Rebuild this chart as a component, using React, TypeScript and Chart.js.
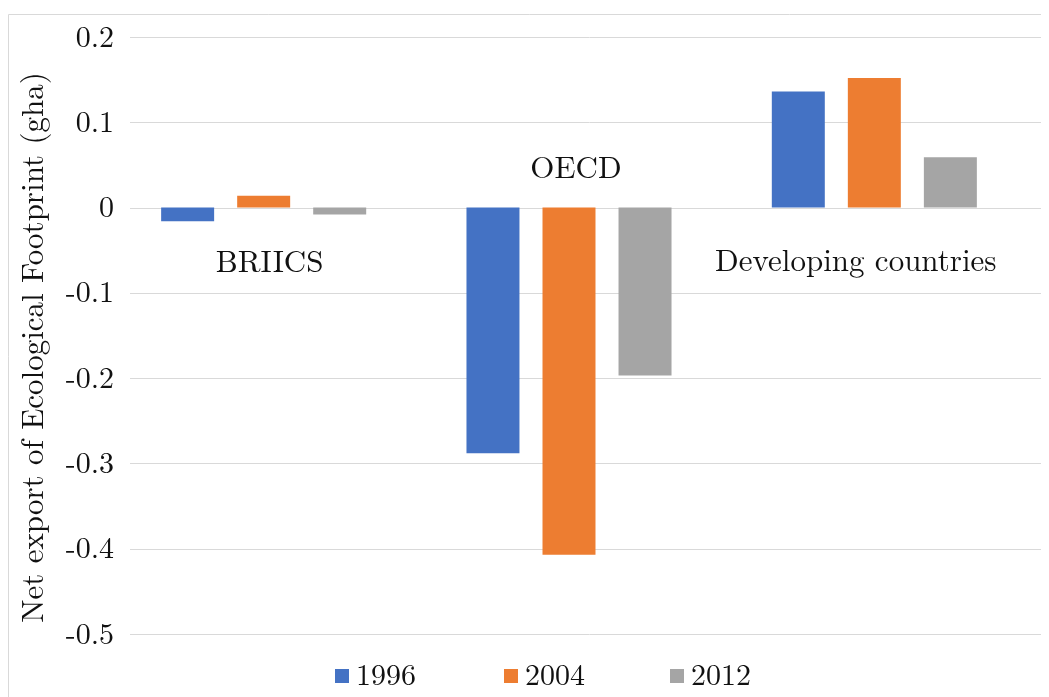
import { useEffect, useRef } from "react";
import { Chart, registerables } from "chart.js";

Chart.register(...registerables);

const categories = ["BRIICS", "OECD", "Developing countries"];
const seriesLabels = ["1996", "2004", "2012"];
const values1996 = [-0.016, -0.288, 0.136];
const values2004 = [0.014, -0.407, 0.152];
const values2012 = [-0.008, -0.197, 0.059];
const yTickValues = [0.2, 0.1, 0, -0.1, -0.2, -0.3, -0.4, -0.5];
const yTickLabels = ["0.2", "0.1", "0", "-0.1", "-0.2", "-0.3", "-0.4", "-0.5"];
const yTitle = "Net export of Ecological Footprint (gha)";
const seriesColors = ["#4472C4", "#ED7D31", "#A5A5A5"];

const FONT = '"Latin Modern Roman"';
const TEXT = "#111111";
const GRID = "#d9d9d9";

const decorPlugin = {
  id: "decor",
  beforeDatasetsDraw(chart: any) {
    const ctx = chart.ctx as CanvasRenderingContext2D;
    const y = chart.scales.y;
    const W = chart.width;
    const H = chart.height;
    ctx.save();
    ctx.strokeStyle = GRID;
    ctx.lineWidth = 1;
    ctx.beginPath();
    ctx.moveTo(0.5, H + 2);
    ctx.lineTo(0.5, 6.5);
    ctx.lineTo(W + 2, 6.5);
    ctx.stroke();
    for (const v of yTickValues) {
      const py = Math.round(y.getPixelForValue(v)) + 0.5;
      ctx.beginPath();
      ctx.moveTo(122, py);
      ctx.lineTo(W, py);
      ctx.stroke();
    }
    ctx.fillStyle = TEXT;
    ctx.font = `30px ${FONT}`;
    ctx.textAlign = "right";
    ctx.textBaseline = "alphabetic";
    yTickValues.forEach((v, i) => {
      const py = y.getPixelForValue(v);
      ctx.fillText(yTickLabels[i], 106, py + 9.5);
    });
    ctx.save();
    ctx.font = `31px ${FONT}`;
    ctx.translate(35.3, 339.5);
    ctx.rotate(-Math.PI / 2);
    ctx.textAlign = "center";
    ctx.fillText(yTitle, 0, 0);
    ctx.restore();
    ctx.restore();
  },
  afterDatasetsDraw(chart: any) {
    const ctx = chart.ctx as CanvasRenderingContext2D;
    const x = chart.scales.x;
    const y = chart.scales.y;
    const zero = y.getPixelForValue(0);
    ctx.save();
    ctx.fillStyle = TEXT;
    ctx.font = `31px ${FONT}`;
    ctx.textAlign = "center";
    ctx.textBaseline = "alphabetic";
    const dx = [6, 7, -18.5];
    const dy = [64.5, -29.5, 63.5];
    categories.forEach((c, i) => {
      ctx.fillText(c, x.getPixelForValue(i) + dx[i], zero + dy[i]);
    });
    const boxX = [327, 496, 662];
    ctx.font = `30px ${FONT}`;
    ctx.textAlign = "left";
    seriesLabels.forEach((s, i) => {
      ctx.fillStyle = seriesColors[i];
      ctx.fillRect(boxX[i], 661, 14, 14);
      ctx.fillStyle = TEXT;
      ctx.fillText(s, boxX[i] + 21, 677);
    });
    ctx.restore();
  },
};

export default function App() {
  const ref = useRef<HTMLCanvasElement>(null);
  useEffect(() => {
    if (!ref.current) return;
    const chart = new Chart(ref.current, {
      type: "bar",
      data: {
        labels: categories,
        datasets: [
          { label: seriesLabels[0], data: values1996, backgroundColor: seriesColors[0] },
          { label: seriesLabels[1], data: values2004, backgroundColor: seriesColors[1] },
          { label: seriesLabels[2], data: values2012, backgroundColor: seriesColors[2] },
        ],
      },
      options: {
        responsive: false,
        animation: false,
        devicePixelRatio: 1,
        layout: { padding: { left: 103, right: 22, top: 29, bottom: 63 } },
        datasets: { bar: { categoryPercentage: 0.747, barPercentage: 0.697 } },
        scales: {
          x: { display: false, offset: true },
          y: { display: false, min: -0.5, max: 0.2 },
        },
        plugins: {
          legend: { display: false },
          tooltip: { enabled: false },
        },
      },
      plugins: [decorPlugin],
    });
    return () => chart.destroy();
  }, []);
  return (
    <canvas
      ref={ref}
      width={1041}
      height={689}
      style={{ display: "block", width: 1041, height: 689 }}
    />
  );
}
